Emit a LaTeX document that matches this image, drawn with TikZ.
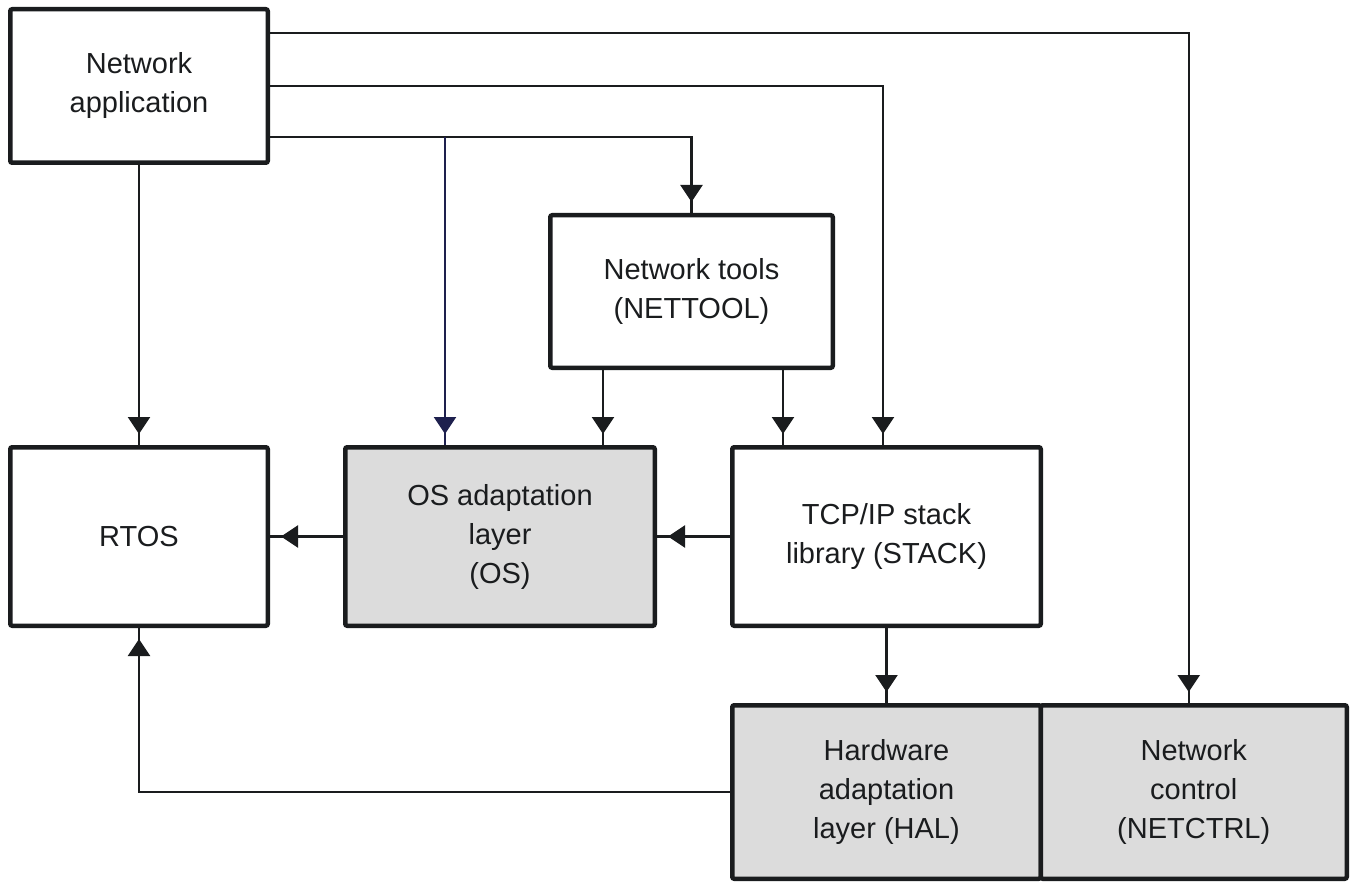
\documentclass[tikz,border=0pt]{standalone}
\usepackage{fontspec}
\setmainfont{Liberation Sans}
\usetikzlibrary{positioning,arrows.meta,decorations.markings}
\definecolor{boxgray}{RGB}{220,220,220}
\definecolor{linedark}{RGB}{26,28,30}
\definecolor{linenavy}{RGB}{30,32,78}

\tikzset{
    block/.style={draw=linedark, line width=2.25pt, rounded corners=1pt, align=center,
        inner sep=0pt, text=linedark, font=\fontsize{14.5}{19.5}\selectfont},
    shaded/.style={block, fill=boxgray},
    flow/.style={color=linedark, line width=1.2pt, postaction={decorate},
        decoration={markings, mark=at position -5.5pt with {\arrow{Triangle[width=11pt,length=8.5pt]}}}},
}

\begin{document}
\begin{tikzpicture}[x=0.5pt, y=-0.5pt]
    \useasboundingbox (0,0) rectangle (1351,883);

    % blocks
    \node[block, minimum width=128.75pt, minimum height=76.75pt] (app) at (139,86) {Network\\application};
    \node[block, minimum width=141.25pt, minimum height=76.25pt] (tools) at (691.5,291.5) {Network tools\\(NETTOOL)};
    \node[block, minimum width=128.75pt, minimum height=89.25pt] (rtos) at (139,536.5) {RTOS};
    \node[shaded, minimum width=154.75pt, minimum height=89.25pt] (os) at (500,536.5) {OS adaptation\\layer\\(OS)};
    \node[block, minimum width=154.25pt, minimum height=89.25pt] (stack) at (886.5,536.5) {TCP/IP stack\\library (STACK)};
    \node[shaded, minimum width=154.25pt, minimum height=86.75pt] (hal) at (886.5,792) {Hardware\\adaptation\\layer (HAL)};
    \node[shaded, minimum width=153pt, minimum height=86.75pt, right=-2.25pt of hal] (netctrl) {Network\\control\\(NETCTRL)};

    % helper points
    \coordinate (appA) at ([yshift=26.5pt]app.east);
    \coordinate (appC) at ([yshift=-25.5pt]app.east);
    \coordinate (osA) at ([xshift=-27.5pt]os.north);
    \coordinate (toolsL) at ([xshift=-44.25pt]tools.south);
    \coordinate (toolsR) at ([xshift=45.75pt]tools.south);

    % connectors
    \draw[flow] (appA) -| ([xshift=-2.5pt]netctrl.north);
    \draw[flow] (app.east) -| ([xshift=-1.75pt]stack.north);
    \draw[flow] (appC) -| (tools.north);
    \draw[flow, color=linenavy] (appC -| osA) -- (osA);
    \draw[flow] (app.south) -- (rtos.north);
    \draw[flow] (toolsL) -- (toolsL |- os.north);
    \draw[flow] (toolsR) -- (toolsR |- stack.north);
    \draw[flow] (stack.west) -- (os.east);
    \draw[flow] (os.west) -- (rtos.east);
    \draw[flow] (stack.south) -- (hal.north);
    \draw[flow] (hal.west) -| (rtos.south);
\end{tikzpicture}
\end{document}
